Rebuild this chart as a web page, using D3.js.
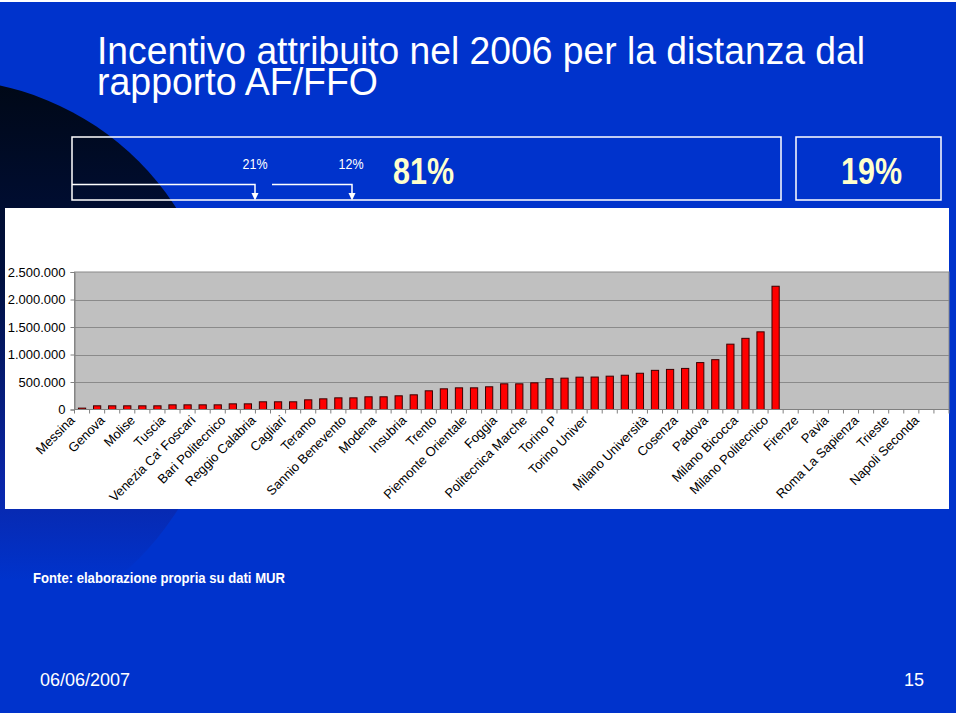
<!DOCTYPE html>
<html><head><meta charset="utf-8">
<script src="https://cdn.jsdelivr.net/npm/d3@7/dist/d3.min.js"></script>
<style>body{margin:0;background:#fff}svg{display:block}</style>
</head><body>
<svg id="c" width="960" height="720"></svg>
<script>
// ---- data ----
const titleLines = ["Incentivo attribuito nel 2006 per la distanza dal", "rapporto AF/FFO"];
const smallPcts = ["21%", "12%"];
const bigPcts = ["81%", "19%"];
const sourceNote = "Fonte: elaborazione propria su dati MUR";
const dateText = "06/06/2007";
const pageNum = "15";

// every other category carries a visible label (Excel skips alternate labels)
const tickLabels = ["Messina","Genova","Molise","Tuscia","Venezia Ca' Foscari","Bari Politecnico",
  "Reggio Calabria","Cagliari","Teramo","Sannio Benevento","Modena","Insubria","Trento",
  "Piemonte Orientale","Foggia","Politecnica Marche","Torino P","Torino Univer","",
  "Milano Università","Cosenza","Padova","Milano Bicocca","Milano Politecnico","Firenze",
  "Pavia","Roma La Sapienza","Trieste","Napoli Seconda"];

const values = [25000, 67000, 67000, 67000, 67000, 67000, 85000, 85000, 85000, 85000,
  103000, 103000, 140000, 140000, 140000, 176000, 194000, 212000, 212000, 231000,
  231000, 249000, 267000, 340000, 376000, 394000, 394000, 413000, 467000, 467000,
  485000, 560000, 570000, 588000, 590000, 606000, 623000, 659000, 712000, 729000,
  747000, 853000, 906000, 1188000, 1294000, 1412000, 2241000,
  0, 0, 0, 0, 0, 0, 0, 0, 0, 0, 0];

const yTicks = [0, 500000, 1000000, 1500000, 2000000, 2500000];

// ---- drawing ----
const svg = d3.select("#c");
const FONT = "'Liberation Sans', Arial, sans-serif";
const NARROW = "'Liberation Sans Narrow', 'Arial Narrow', 'Liberation Sans', Arial, sans-serif";
const it = d3.formatLocale({decimal: ",", thousands: ".", grouping: [3], currency: ["€", ""]});
const fmt = it.format(",");

const defs = svg.append("defs");
const g1 = defs.append("linearGradient").attr("id", "dark")
  .attr("gradientUnits", "userSpaceOnUse").attr("x1", 0).attr("y1", 80).attr("x2", 0).attr("y2", 580);
g1.append("stop").attr("offset", 0).attr("stop-color", "#000816");
g1.append("stop").attr("offset", 0.4).attr("stop-color", "#001040");
g1.append("stop").attr("offset", 0.8).attr("stop-color", "#0a26a8");
g1.append("stop").attr("offset", 1).attr("stop-color", "#0033cc");

// slide background
svg.append("rect").attr("x", 0).attr("y", 2).attr("width", 956).attr("height", 711).attr("fill", "#0033cc");
const clip = defs.append("clipPath").attr("id", "slideClip");
clip.append("rect").attr("x", 0).attr("y", 2).attr("width", 956).attr("height", 711);
svg.append("circle").attr("cx", -60).attr("cy", 360).attr("r", 281)
  .attr("fill", "url(#dark)").attr("clip-path", "url(#slideClip)");

// title (one text block, two lines, tight leading)
const title = svg.append("text").attr("font-family", NARROW).attr("font-size", 38).attr("fill", "#fff");
title.selectAll("tspan").data(titleLines).join("tspan")
  .attr("x", 97).attr("y", (d, i) => 64 + i * 31)
  .attr("textLength", (d, i) => i === 0 ? 768 : 281).attr("lengthAdjust", "spacingAndGlyphs")
  .text(d => d);

// percentage boxes
const boxG = svg.append("g").attr("fill", "none").attr("stroke", "#fff").attr("stroke-width", 1.5);
boxG.append("rect").attr("x", 72).attr("y", 137).attr("width", 709).attr("height", 63);
boxG.append("rect").attr("x", 796).attr("y", 137).attr("width", 145).attr("height", 63);
const arrows = [[72, 255], [272, 352]];
arrows.forEach(([a, b]) => {
  boxG.append("path").attr("d", `M${a},184.5H${b}V194`);
  svg.append("path").attr("d", `M${b - 3.5},193L${b + 3.5},193L${b},200.5Z`).attr("fill", "#fff");
});
svg.append("g").selectAll("text").data(smallPcts).join("text")
  .attr("x", (d, i) => [255, 351][i]).attr("y", 169).attr("text-anchor", "middle")
  .attr("font-family", NARROW).attr("font-size", 14).attr("fill", "#fff")
  .attr("textLength", 25).attr("lengthAdjust", "spacingAndGlyphs").text(d => d);
svg.append("g").selectAll("text").data(bigPcts).join("text")
  .attr("x", (d, i) => [393, 841][i]).attr("y", 184)
  .attr("font-family", NARROW).attr("font-size", 36).attr("font-weight", "bold").attr("fill", "#ffffcc")
  .attr("textLength", 61).attr("lengthAdjust", "spacingAndGlyphs").text(d => d);

// chart panel
svg.append("rect").attr("x", 5).attr("y", 208).attr("width", 944).attr("height", 301).attr("fill", "#fff");

const x = d3.scaleBand().domain(d3.range(values.length)).range([74.5, 949])
  .paddingInner(0.52).paddingOuter(0.26);
const y = d3.scaleLinear().domain([0, 2500000]).range([409.5, 272]);

svg.append("rect").attr("x", 74.5).attr("y", y(2500000)).attr("width", 949 - 74.5)
  .attr("height", y(0) - y(2500000)).attr("fill", "#c0c0c0").attr("stroke", "#8a8a8a").attr("stroke-width", 1);

// gridlines
svg.append("g").selectAll("line").data(yTicks.slice(1, -1)).join("line")
  .attr("x1", 74.5).attr("x2", 949).attr("y1", d => Math.round(y(d)) + 0.5).attr("y2", d => Math.round(y(d)) + 0.5)
  .attr("stroke", "#8a8a8a").attr("stroke-width", 1);

// y axis
const yAxis = d3.axisLeft(y).tickValues(yTicks).tickFormat(fmt).tickSize(4).tickPadding(5);
const ya = svg.append("g").attr("transform", "translate(74.5,0)").call(yAxis);
ya.select(".domain").attr("stroke", "#808080");
ya.selectAll(".tick line").attr("stroke", "#808080");
ya.selectAll(".tick text").attr("font-family", FONT).attr("font-size", 13).attr("fill", "#000");

// bars
svg.append("g").selectAll("rect").data(values).join("rect")
  .attr("x", (d, i) => x(i)).attr("width", x.bandwidth())
  .attr("y", d => y(d)).attr("height", d => y(0) - y(d))
  .attr("fill", "#ff0000").attr("stroke", "#3a0000").attr("stroke-width", 1)
  .attr("display", d => d > 0 ? null : "none");

// x axis line and category separator ticks
svg.append("line").attr("x1", 74.5).attr("x2", 949).attr("y1", y(0)).attr("y2", y(0))
  .attr("stroke", "#808080");
const bounds = d3.range(values.length + 1).map(k => x.range()[0] + k * x.step());
svg.append("g").selectAll("line").data(bounds).join("line")
  .attr("x1", d => d).attr("x2", d => d).attr("y1", y(0)).attr("y2", y(0) + 4)
  .attr("stroke", "#808080");

// category labels (every other category)
const labelIdx = d3.range(0, values.length, 2);
svg.append("g").selectAll("text").data(labelIdx).join("text")
  .attr("transform", i => `translate(${x(i) + x.bandwidth() / 2 - 13},${y(0) + 5}) rotate(-45)`)
  .attr("text-anchor", "end").attr("dy", "0.71em")
  .attr("font-family", FONT).attr("font-size", 13).attr("fill", "#000")
  .text(i => tickLabels[i / 2]);

// footer
svg.append("text").attr("x", 33).attr("y", 583).attr("font-family", NARROW).attr("font-size", 15)
  .attr("font-weight", "bold").attr("fill", "#fff").attr("textLength", 252)
  .attr("lengthAdjust", "spacingAndGlyphs").text(sourceNote);
svg.append("text").attr("x", 40).attr("y", 686).attr("font-family", FONT).attr("font-size", 18)
  .attr("fill", "#fff").text(dateText);
svg.append("text").attr("x", 924).attr("y", 686).attr("text-anchor", "end").attr("font-family", FONT)
  .attr("font-size", 18).attr("fill", "#fff").text(pageNum);
</script>
</body></html>
